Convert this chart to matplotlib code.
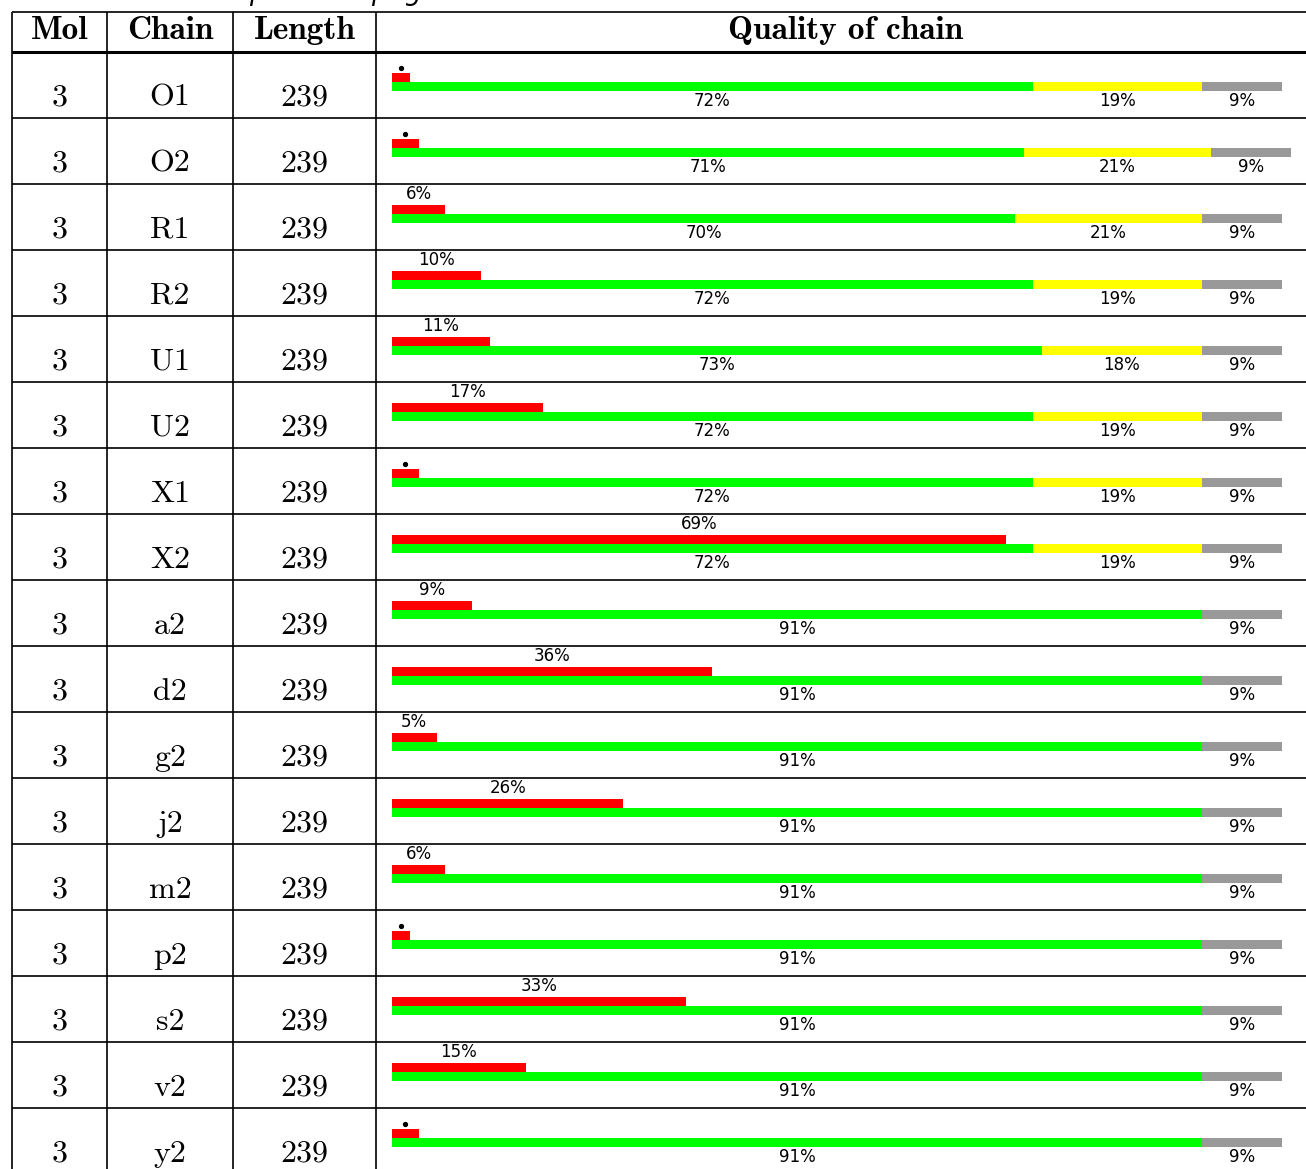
import matplotlib
matplotlib.use("Agg")
import matplotlib.pyplot as plt

# datos de la tabla
mol = [3] * 17
chains = ['O1', 'O2', 'R1', 'R2', 'U1', 'U2', 'X1', 'X2', 'a2', 'd2',
          'g2', 'j2', 'm2', 'p2', 's2', 'v2', 'y2']
length = [239] * 17
red = [2, 3, 6, 10, 11, 17, 3, 69, 9, 36, 5, 26, 6, 2, 33, 15, 3]
green = [72, 71, 70, 72, 73, 72, 72, 72, 91, 91, 91, 91, 91, 91, 91, 91, 91]
yellow = [19, 21, 21, 19, 18, 19, 19, 19, 0, 0, 0, 0, 0, 0, 0, 0, 0]
grey = [9] * 17
headers = ['Mol', 'Chain', 'Length', 'Quality of chain']

W, H = 1306, 1169
fig = plt.figure(figsize=(W / 100, H / 100), dpi=100)
ax = fig.add_axes([0, 0, 1, 1])
ax.set_xlim(0, W)
ax.set_ylim(H, 0)
ax.axis('off')

top = 12
head = 52
rowh = 66
cols = [12, 107, 233, 376, 1316]
n = len(chains)

# lineas de la tabla
ax.hlines(top, cols[0], W, color='black', lw=1.2)
ax.hlines(head, cols[0], W, color='black', lw=2.2)
for i in range(1, n):
    ax.hlines(head + rowh * i, cols[0], W, color='black', lw=1.2)
for x in cols[:4]:
    ax.vlines(x, top, H, color='black', lw=1.2)

ax.text(35, 0, r'$\mathit{Continued\ from\ previous\ page}$', fontsize=19,
        va='baseline', ha='left')

centers = [(cols[k] + cols[k + 1]) / 2 for k in range(4)]
for k, h in enumerate(headers):
    ax.text(centers[k], 39, h, family='cmb10', fontsize=24,
            ha='center', va='baseline')

for i in range(n):
    yb = head + rowh * i + 54
    for k, val in enumerate([mol[i], chains[i], length[i]]):
        ax.text(centers[k], yb, str(val), family='cmr10', fontsize=23,
                ha='center', va='baseline')

# barras de calidad
bx = fig.add_axes([cols[3] / W, 0, (W - cols[3]) / W, (H - head) / H])
bx.set_xlim(-16 / 8.9, (W - 392) / 8.9)
bx.set_ylim((H - head) / rowh, 0)
bx.axis('off')
bx.patch.set_alpha(0)

rows = list(range(n))
yg = [r + 0.523 for r in rows]
yr = [r + 0.386 for r in rows]
bh = 0.137
left_y = [g for g in green]
left_g = [g + y for g, y in zip(green, yellow)]

bx.barh(yr, red, height=bh, color='#ff0000')
bx.barh(yg, green, height=bh, color='#00ff00')
bx.barh(yg, yellow, left=left_y, height=bh, color='#ffff00')
bx.barh(yg, grey, left=left_g, height=bh, color='#999999')

fs = 12
for i in rows:
    if red[i] >= 5:
        bx.text(red[i] / 2, i + 0.15, f'{red[i]}%', fontsize=fs,
                ha='center', va='center')
    else:
        bx.plot(red[i] / 2, i + 0.24, 'o', color='black', ms=2.8)
    yl = i + 0.742
    bx.text(green[i] / 2, yl, f'{green[i]}%', fontsize=fs,
            ha='center', va='center')
    if yellow[i] > 0:
        bx.text(green[i] + yellow[i] / 2, yl, f'{yellow[i]}%', fontsize=fs,
                ha='center', va='center')
    bx.text(left_g[i] + grey[i] / 2, yl, f'{grey[i]}%', fontsize=fs,
            ha='center', va='center')

fig.savefig('out.png', dpi=100)
